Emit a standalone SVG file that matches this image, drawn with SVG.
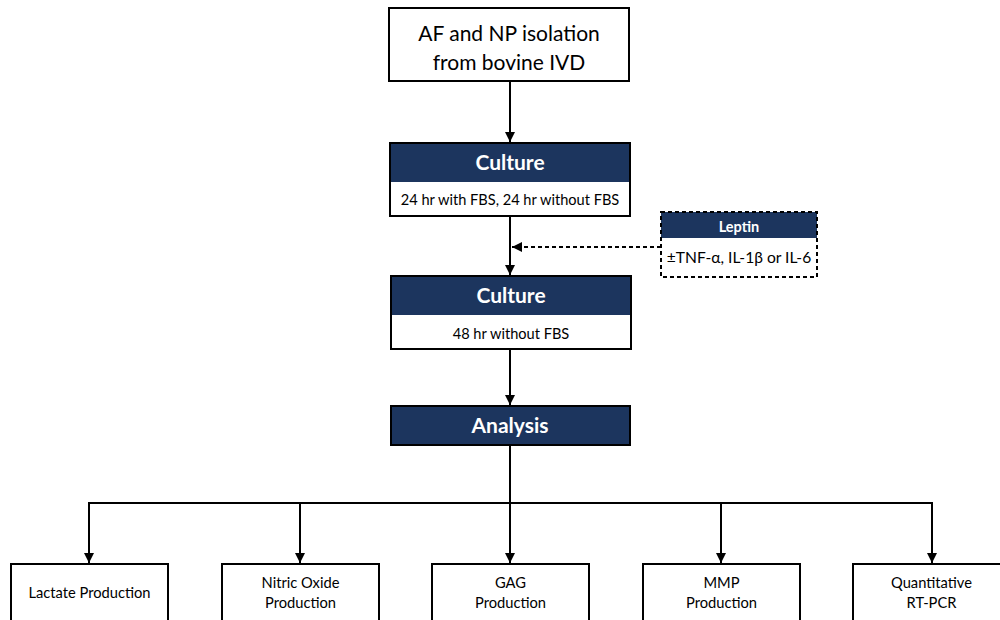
<svg xmlns="http://www.w3.org/2000/svg" width="1000" height="620" viewBox="0 0 1000 620">
<style>
.box{fill:#fff;stroke:#000;stroke-width:2}
.frame{fill:none;stroke:#000;stroke-width:2}
.hdr{fill:#1c355e}
.edge{fill:none;stroke:#000;stroke-width:2}
.dash{fill:none;stroke:#000;stroke-width:2;stroke-dasharray:4 3}
text{font-family:Lato,"Open Sans","Liberation Sans",sans-serif;fill:#000;text-anchor:middle}
.h{fill:#fff;font-weight:bold}
.b{font-size:14.7px}
</style>
<defs>
<marker id="arr" viewBox="0 0 10 10" refX="10" refY="5" markerWidth="5" markerHeight="5" markerUnits="strokeWidth" orient="auto">
<path d="M0,0 L10,5 L0,10 z" fill="#000"/>
</marker>
</defs>
<rect width="1000" height="620" fill="#fff"/>
<g id="connectors">
<line class="edge" x1="510" y1="81" x2="510" y2="142" marker-end="url(#arr)"/>
<line class="edge" x1="510" y1="216" x2="510" y2="275" marker-end="url(#arr)"/>
<line class="dash" x1="661" y1="247" x2="512" y2="247" marker-end="url(#arr)"/>
<line class="edge" x1="510" y1="349" x2="510" y2="405" marker-end="url(#arr)"/>
<polyline class="edge" points="510,445 510,503"/>
<polyline class="edge" points="89,563 89,503 932,503 932,563" marker-end="url(#arr)"/>
<line class="edge" x1="89" y1="503" x2="89" y2="563" marker-end="url(#arr)"/>
<line class="edge" x1="300" y1="503" x2="300" y2="563" marker-end="url(#arr)"/>
<line class="edge" x1="510" y1="503" x2="510" y2="563" marker-end="url(#arr)"/>
<line class="edge" x1="721" y1="503" x2="721" y2="563" marker-end="url(#arr)"/>
</g>
<g id="isolation">
<rect class="box" x="389" y="8" width="240" height="73"/>
<text x="509" y="41" font-size="21">AF and NP isolation</text>
<text x="509" y="70" font-size="21">from bovine IVD</text>
</g>
<g id="culture1">
<rect class="box" x="390" y="143" width="240" height="73"/>
<rect class="hdr" x="390" y="143" width="240" height="39"/>
<rect class="frame" x="390" y="143" width="240" height="73"/>
<text class="h" x="510" y="170" font-size="21">Culture</text>
<text x="510" y="205" font-size="14.6">24 hr with FBS, 24 hr without FBS</text>
</g>
<g id="leptin">
<rect x="661" y="212" width="156" height="65" fill="#fff"/>
<rect class="hdr" x="661" y="212" width="156" height="26"/>
<rect class="dash" x="661" y="212" width="156" height="65"/>
<text class="h" x="739" y="232" font-size="14.5">Leptin</text>
<text x="739" y="263" font-size="15.6">±TNF-α, IL-1β or IL-6</text>
</g>
<g id="culture2">
<rect class="box" x="391" y="276" width="240" height="73"/>
<rect class="hdr" x="391" y="276" width="240" height="39"/>
<rect class="frame" x="391" y="276" width="240" height="73"/>
<text class="h" x="511" y="303" font-size="21">Culture</text>
<text x="511" y="339" font-size="14.6">48 hr without FBS</text>
</g>
<g id="analysis">
<rect class="hdr" x="391" y="406" width="239" height="39"/>
<rect class="frame" x="391" y="406" width="239" height="39"/>
<text class="h" x="510" y="433" font-size="21">Analysis</text>
</g>
<g id="lactate">
<rect class="box" x="11" y="564" width="157" height="70"/>
<text class="b" x="89.5" y="598">Lactate Production</text>
</g>
<g id="nitric">
<rect class="box" x="222" y="564" width="157" height="70"/>
<text class="b" x="300.5" y="588">Nitric Oxide</text>
<text class="b" x="300.5" y="608">Production</text>
</g>
<g id="gag">
<rect class="box" x="432" y="564" width="157" height="70"/>
<text class="b" x="510.5" y="588">GAG</text>
<text class="b" x="510.5" y="608">Production</text>
</g>
<g id="mmp">
<rect class="box" x="643" y="564" width="157" height="70"/>
<text class="b" x="721.5" y="588">MMP</text>
<text class="b" x="721.5" y="608">Production</text>
</g>
<g id="qpcr">
<rect class="box" x="853" y="564" width="157" height="70"/>
<text class="b" x="931.5" y="588">Quantitative</text>
<text class="b" x="931.5" y="608">RT-PCR</text>
</g>
</svg>
